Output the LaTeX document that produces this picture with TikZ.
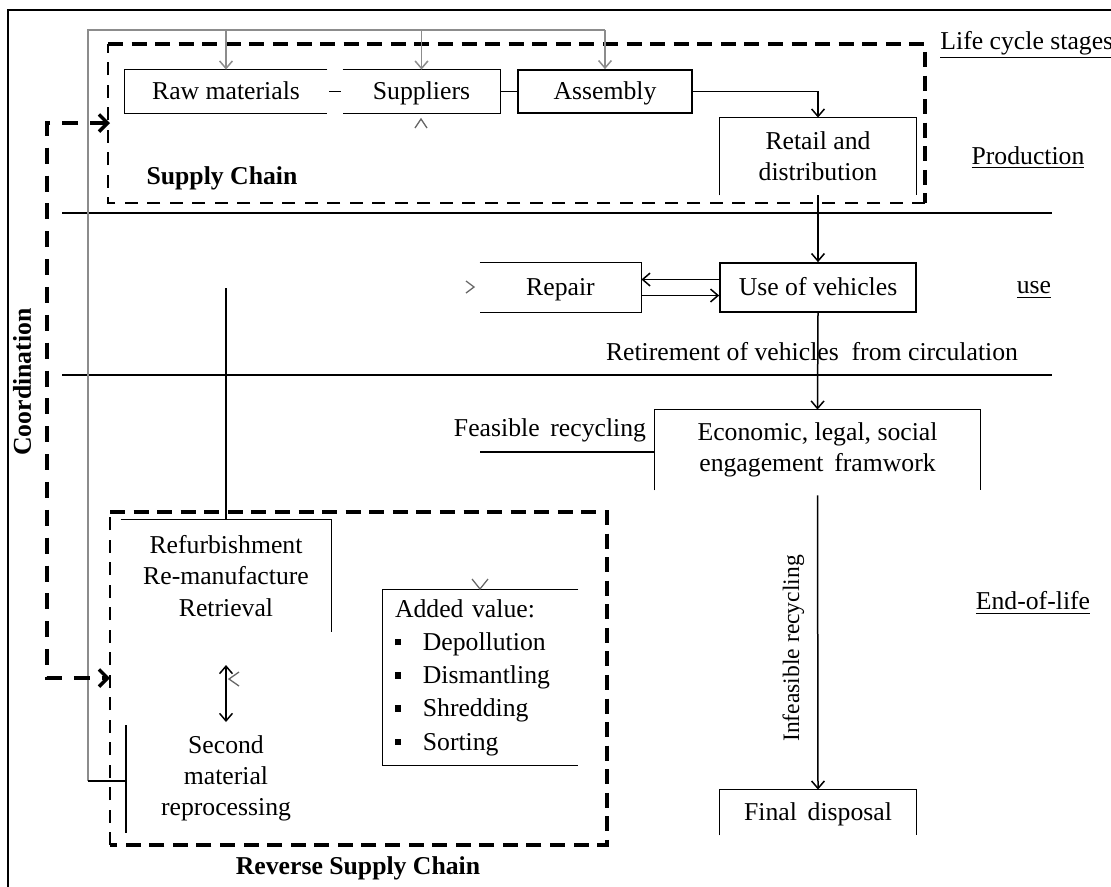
\documentclass[tikz,border=0pt,12pt]{standalone}
\usepackage{fontspec}
\setmainfont{Liberation Serif}
\usepackage{tikz}
\usetikzlibrary{arrows.meta}
\usetikzlibrary{positioning}

\newcommand{\pxu}{0.0164cm}
\newcommand{\sqbullet}{\makebox[13pt][l]{\rule[2.4pt]{3pt}{3pt}}}

\tikzset{
    cell/.style 2 args={inner sep=0pt, align=center, minimum width=#1*\pxu, minimum height=#2*\pxu},
    oneline/.style={text height=8pt, text depth=1pt},
    frame/.style={line width=0.8pt},
    arr/.style={line width=0.7pt, -{Straight Barb[length=3.5pt,width=6pt]}},
    feed/.style={draw=black!45, line width=0.6pt},
    chev/.style={draw=black!60, line width=0.6pt},
    dashthick/.style={line width=1.9pt, dash pattern=on 7pt off 4pt},
    dashthin/.style={line width=1pt, dash pattern=on 6pt off 4.5pt},
    coordline/.style={line width=1.6pt, dash pattern=on 7.5pt off 5.5pt,
        {Straight Barb[length=4pt,width=8pt]}-{Straight Barb[length=4pt,width=8pt]}},
    stagelbl/.style={inner sep=0pt}
}

\begin{document}
\begin{tikzpicture}[x=\pxu, y=-\pxu]
    \useasboundingbox (0,0) rectangle (1111,886);
    \draw[line width=1pt] (8,900) -- (8,10) -- (1120,10);

    \node[cell={202}{43}, oneline] (raw) at (226,91.5) {Raw materials};
    \node[cell={157}{43}, oneline] (sup) at (421.5,91.5) {Suppliers};
    \node[cell={174}{43}, oneline, draw, frame] (asm) at (605,91.5) {Assembly};
    \node[cell={196}{77}] (retail) at (818,156.5) {Retail and\\distribution};
    \node[cell={196}{49}, oneline, draw, frame] (use) at (818,287.5) {Use of vehicles};
    \node[cell={161}{49}, oneline] (repair) at (560.5,287.5) {Repair};
    \node[cell={325}{80}] (econ) at (817.5,450) {Economic, legal, social\\engagement\, framwork};
    \node[cell={196}{45}, oneline] (final) at (818,812.5) {Final\, disposal};
    \node[cell={210}{112}] (refurb) at (226,576) {Refurbishment\\Re-manufacture\\Retrieval};
    \node[align=center, inner sep=0pt] (second) at (226,778) {Second\\material\\reprocessing};
    \node[cell={195}{175}, align=left, text width=171*\pxu] (added) at (480.5,677.5)
        {Added value:\\[1pt]\sqbullet Depollution\\[1pt]\sqbullet Dismantling\\[1pt]\sqbullet Shredding\\[1pt]\sqbullet Sorting};

    \node[font=\bfseries] (sclbl) at (222,178) {Supply Chain};
    \node[font=\bfseries] (rsclbl) at (358,868) {Reverse Supply Chain};
    \node[font=\bfseries, rotate=90] (coordlbl) at (22,382) {Coordination};
    \node (retire) at (812,352) {Retirement of vehicles\ \ from circulation};
    \node (feas) at (550,430) {Feasible\, recycling};

    \node[stagelbl, anchor=west] (lifecycle) at (940,45) {\underline{Life cycle stages}};
    \node[stagelbl] (prod) at (1028,158) {\underline{Production}};
    \node[stagelbl] (usestage) at (1034,290) {\underline{use}};
    \node[stagelbl] (eol) at (1033,603) {\underline{End-of-life}};

    \draw[dashthick] (108,44) -- (925,44) -- (925,203);
    \draw[dashthin] (925,203) -- (108,203) -- (108,44);
    \draw[dashthick] (110,512) -- (607,512) -- (607,845) -- (110,845);
    \draw[dashthin] (110,845) -- (110,512);

    \draw[frame] (62,213) -- (1052,213);
    \draw[frame] (62,375) -- (1052,375);

    \draw[frame] (raw.north east) -- (raw.north west) -- (raw.south west) -- (raw.south east);
    \draw[frame] (sup.north west) -- (sup.north east) -- (sup.south east) -- (sup.south west);
    \draw[frame] ([xshift=2*\pxu]raw.east) -- ([xshift=-2*\pxu]sup.west);
    \draw[frame] (sup.east) -- (asm.west);
    \draw[frame] (retail.south west) -- (retail.north west) -- (retail.north east) -- (retail.south east);
    \draw[frame] (repair.north west) -- (repair.north east) -- (repair.south east) -- (repair.south west);
    \draw[frame] (econ.south west) -- (econ.north west) -- (econ.north east) -- (econ.south east);
    \draw[frame] (final.south west) -- (final.north west) -- (final.north east) -- (final.south east);
    \draw[frame] (refurb.north west) -- (refurb.north east) -- (refurb.south east);
    \draw[frame] (added.north east) -- (added.north west) -- (added.south west) -- (added.south east);

    \coordinate (feedtop) at (88,30);
    \coordinate (feedend) at (88,781);
    \coordinate (brtop) at (126,725);
    \coordinate (brbot) at (126,833);
    \draw[feed] (feedend) -- (feedtop) -- (feedtop -| asm.north);
    \draw[feed, arr] (feedtop -| raw.north) -- (raw.north);
    \draw[feed, arr] (feedtop -| sup.north) -- (sup.north);
    \draw[feed, arr] (feedtop -| asm.north) -- (asm.north);
    \draw[line width=1.3pt] (feedend) -- (feedend -| brtop);
    \draw[frame] (brtop) -- (brbot);

    \draw[arr] (asm.east) -| (retail.north);
    \draw[arr] (retail.south) -- (use.north);
    \draw[arr] ([yshift=8*\pxu]use.west) -- ([yshift=8*\pxu]repair.east);
    \draw[arr] ([yshift=-8*\pxu]repair.east) -- ([yshift=-8*\pxu]use.west);
    \draw[arr] (use.south) -- (econ.north);
    \draw[arr] ([yshift=-5*\pxu]econ.south) -- node[pos=0.52, rotate=90, anchor=south, inner sep=6pt,
        font=\fontsize{11}{13}\selectfont] (infeas) {Infeasible recycling} (final.north);

    \coordinate (feasstart) at (480,452);
    \draw[frame] (feasstart) -- (feasstart -| econ.west);

    \coordinate (reptap) at (226,288);
    \draw[frame] (reptap) -- (reptap |- refurb.north);

    \coordinate (dtop) at (226,665);
    \coordinate (dbot) at (226,722);
    \draw[arr, {Straight Barb[length=3.5pt,width=6pt]}-{Straight Barb[length=3.5pt,width=6pt]}] (dtop) -- (dbot);

    \coordinate (ctop) at (110,123);
    \coordinate (cmid) at (47,400);
    \coordinate (cbot) at (110,678);
    \draw[coordline] (ctop) -| (cmid) |- (cbot);

    \draw[chev] (415,128) -- (421,119) -- (427,128);
    \draw[chev] (466,281) -- (474,287) -- (466,293);
    \draw[chev] (239,672) -- (229,679) -- (239,686);
    \draw[chev] (472,579) -- (480,589) -- (488,579);
\end{tikzpicture}
\end{document}
